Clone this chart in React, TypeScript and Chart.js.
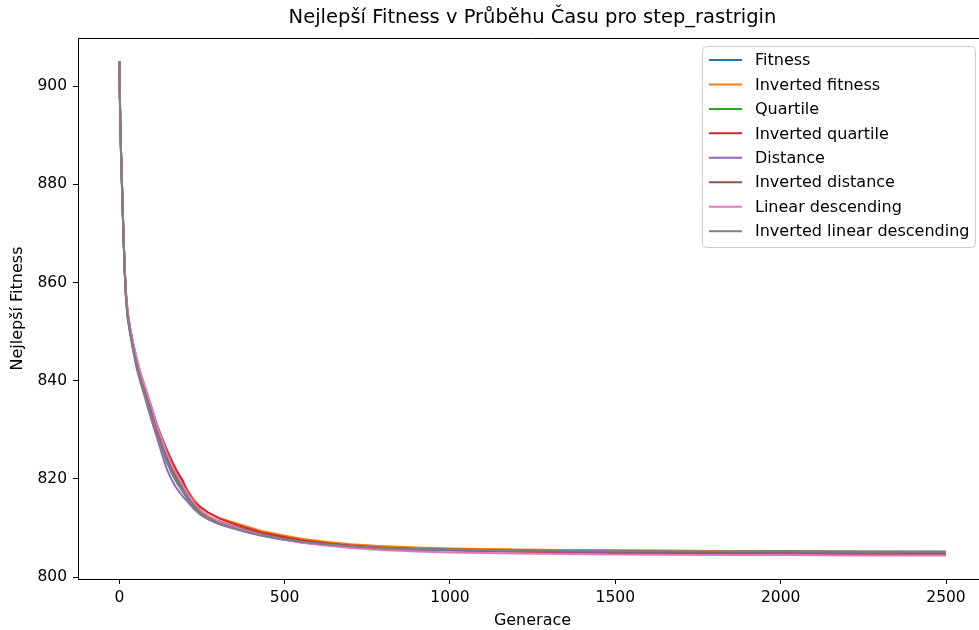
import React, { useEffect, useRef } from "react";
import { Chart, registerables } from "chart.js";

Chart.register(...registerables);

// Generations at which the best fitness was recorded
const GENERATIONS = [
  0, 1, 3, 5, 8, 12, 16, 20, 25, 33,
  42, 53, 65, 75, 84, 100, 114, 130, 144, 160,
  174, 190, 205, 225, 245, 270, 300, 335, 380, 430,
  487, 550, 638, 700, 789, 900, 1000, 1200, 1500, 1800,
  2000, 2250, 2499,
];

const FITNESS = [
  905.0, 900.2, 893.4, 887.1, 879.6, 870.8, 862.6, 857.2, 853.0, 849.7,
  846.4, 843.0, 840.2, 837.9, 835.8, 832.1, 829.3, 826.0, 823.4, 821.0,
  819.2, 817.6, 816.0, 814.3, 812.9, 811.9, 811.0, 810.2, 809.3, 808.5,
  807.8, 807.1, 806.5, 806.2, 805.9, 805.8, 805.7, 805.5, 805.4, 805.3,
  805.3, 805.2, 805.2,
];

const INVERTED_FITNESS = [
  904.8, 899.6, 892.8, 886.7, 880.3, 871.4, 863.3, 857.8, 853.9, 850.3,
  847.2, 843.9, 840.6, 838.8, 836.9, 833.6, 830.8, 827.9, 825.6, 823.4,
  821.5, 819.4, 817.8, 815.8, 814.2, 813.0, 812.1, 811.3, 810.4, 809.4,
  808.6, 807.8, 807.1, 806.7, 806.3, 806.0, 805.8, 805.6, 805.4, 805.3,
  805.2, 805.2, 805.1,
];

const QUARTILE = [
  905.1, 900.1, 892.9, 886.8, 879.9, 870.9, 862.9, 857.4, 853.4, 849.9,
  846.8, 843.2, 840.1, 838.1, 836.0, 832.5, 829.4, 826.4, 823.9, 821.4,
  819.7, 817.9, 816.3, 814.5, 813.1, 812.0, 811.1, 810.3, 809.4, 808.6,
  807.8, 807.1, 806.5, 806.1, 805.7, 805.5, 805.4, 805.2, 805.0, 804.9,
  804.8, 804.8, 804.7,
];

const INVERTED_QUARTILE = [
  905.0, 900.3, 893.2, 887.2, 880.2, 871.2, 863.4, 858.0, 854.0, 850.6,
  847.5, 844.2, 841.2, 839.0, 837.3, 834.0, 831.0, 828.2, 825.9, 823.5,
  821.6, 819.9, 817.6, 815.4, 814.3, 813.1, 812.0, 811.1, 810.1, 809.1,
  808.3, 807.5, 806.8, 806.4, 806.0, 805.7, 805.5, 805.2, 804.9, 804.7,
  804.6, 804.6, 804.5,
];

const DISTANCE = [
  905.0, 899.8, 892.6, 886.5, 879.4, 870.5, 862.4, 856.9, 852.8, 849.4,
  846.0, 842.3, 839.4, 837.2, 835.0, 831.4, 828.4, 824.8, 821.9, 819.6,
  818.0, 816.6, 815.4, 813.9, 812.7, 811.7, 810.8, 810.1, 809.2, 808.4,
  807.7, 807.1, 806.5, 806.1, 805.8, 805.6, 805.5, 805.3, 805.1, 805.0,
  804.9, 804.9, 804.8,
];

const INVERTED_DISTANCE = [
  905.0, 900.0, 893.1, 887.0, 880.1, 871.1, 863.1, 857.6, 853.6, 850.1,
  847.1, 843.6, 840.6, 838.6, 836.6, 833.1, 830.1, 827.1, 824.6, 822.1,
  820.4, 818.6, 817.0, 815.0, 813.5, 812.3, 811.4, 810.6, 809.7, 808.8,
  808.0, 807.3, 806.7, 806.3, 805.9, 805.7, 805.6, 805.4, 805.2, 805.1,
  805.0, 805.0, 804.9,
];

const LINEAR_DESCENDING = [
  905.0, 900.4, 893.5, 887.4, 880.4, 871.5, 863.6, 858.2, 854.2, 850.7,
  847.7, 844.4, 841.5, 839.4, 837.5, 834.1, 830.9, 827.8, 825.2, 822.6,
  820.8, 818.9, 817.2, 815.2, 813.6, 812.4, 811.4, 810.5, 809.5, 808.6,
  807.8, 807.0, 806.3, 805.9, 805.5, 805.2, 805.0, 804.8, 804.6, 804.5,
  804.5, 804.4, 804.4,
];

const INVERTED_LINEAR_DESCENDING = [
  905.1, 899.9, 892.8, 886.7, 879.8, 870.7, 862.7, 857.1, 853.2, 849.8,
  846.6, 843.1, 839.9, 837.8, 835.7, 832.3, 829.1, 826.2, 823.6, 821.2,
  819.4, 817.7, 816.2, 814.2, 812.8, 811.8, 810.9, 810.2, 809.3, 808.5,
  807.8, 807.2, 806.6, 806.3, 805.9, 805.7, 805.6, 805.4, 805.3, 805.2,
  805.2, 805.1, 805.1,
];

const SERIES_LABELS = [
  "Fitness",
  "Inverted fitness",
  "Quartile",
  "Inverted quartile",
  "Distance",
  "Inverted distance",
  "Linear descending",
  "Inverted linear descending",
];

const SERIES_VALUES = [
  FITNESS,
  INVERTED_FITNESS,
  QUARTILE,
  INVERTED_QUARTILE,
  DISTANCE,
  INVERTED_DISTANCE,
  LINEAR_DESCENDING,
  INVERTED_LINEAR_DESCENDING,
];

const SERIES_COLORS = [
  "#1f77b4",
  "#ff7f0e",
  "#2ca02c",
  "#d62728",
  "#9467bd",
  "#8c564b",
  "#e377c2",
  "#7f7f7f",
];

const X_TICKS = [0, 500, 1000, 1500, 2000, 2500];
const Y_TICKS = [800, 820, 840, 860, 880, 900];

const TITLE = "Nejlepší Fitness v Průběhu Času pro step_rastrigin";
const X_TITLE = "Generace";
const Y_TITLE = "Nejlepší Fitness";
const FONT = "'DejaVu Sans', sans-serif";

// Draws the top/right spines, the title and a framed legend inside the plot
const framePlugin = {
  id: "frame",
  afterDraw(chart: any) {
    const { ctx, chartArea: a } = chart;
    ctx.save();

    ctx.strokeStyle = "#000";
    ctx.lineWidth = 1;
    ctx.beginPath();
    ctx.moveTo(a.left, a.top + 0.5);
    ctx.lineTo(a.right, a.top + 0.5);
    ctx.moveTo(a.right - 0.5, a.top);
    ctx.lineTo(a.right - 0.5, a.bottom);
    ctx.stroke();

    ctx.fillStyle = "#000";
    ctx.font = `19.5px ${FONT}`;
    ctx.textAlign = "center";
    ctx.textBaseline = "middle";
    ctx.fillText(TITLE, (a.left + a.right) / 2, 18);

    // legend box
    const bx = 702.5;
    const by = 46.5;
    const bw = 273;
    const bh = 201;
    const r = 4;
    ctx.beginPath();
    ctx.moveTo(bx + r, by);
    ctx.lineTo(bx + bw - r, by);
    ctx.arcTo(bx + bw, by, bx + bw, by + r, r);
    ctx.lineTo(bx + bw, by + bh - r);
    ctx.arcTo(bx + bw, by + bh, bx + bw - r, by + bh, r);
    ctx.lineTo(bx + r, by + bh);
    ctx.arcTo(bx, by + bh, bx, by + bh - r, r);
    ctx.lineTo(bx, by + r);
    ctx.arcTo(bx, by, bx + r, by, r);
    ctx.closePath();
    ctx.fillStyle = "rgba(255,255,255,0.8)";
    ctx.fill();
    ctx.strokeStyle = "#cccccc";
    ctx.stroke();

    ctx.font = `16px ${FONT}`;
    ctx.textAlign = "left";
    chart.data.datasets.forEach((ds: any, i: number) => {
      const y = 60 + i * 24.45;
      ctx.strokeStyle = ds.borderColor;
      ctx.lineWidth = 2;
      ctx.beginPath();
      ctx.moveTo(709, y);
      ctx.lineTo(742, y);
      ctx.stroke();
      ctx.fillStyle = "#000";
      ctx.fillText(ds.label, 755, y + 1);
    });

    ctx.restore();
  },
};

export default function App() {
  const canvasRef = useRef<HTMLCanvasElement | null>(null);

  useEffect(() => {
    document.body.style.margin = "0";
    const canvas = canvasRef.current;
    if (!canvas) return;

    const datasets = SERIES_LABELS.map((label, i) => ({
      label,
      data: GENERATIONS.map((g, k) => ({ x: g, y: SERIES_VALUES[i][k] })),
      borderColor: SERIES_COLORS[i],
      backgroundColor: SERIES_COLORS[i],
      borderWidth: 2,
      pointRadius: 0,
      tension: 0,
      fill: false,
      order: SERIES_LABELS.length - 1 - i,
    }));

    const tickFont = { family: FONT, size: 15.5 };

    const chart = new Chart(canvas, {
      type: "line",
      data: { datasets },
      options: {
        animation: false,
        responsive: false,
        devicePixelRatio: 1,
        layout: { padding: { top: 38, right: 13, left: 0, bottom: 0 } },
        plugins: {
          legend: { display: false },
          title: { display: false },
          tooltip: { enabled: false },
        },
        scales: {
          x: {
            type: "linear",
            min: -124.95,
            max: 2623.95,
            afterBuildTicks: (scale: any) => {
              scale.ticks = X_TICKS.map((v) => ({ value: v }));
            },
            afterFit: (scale: any) => {
              scale.height = 51;
            },
            ticks: {
              color: "#000",
              font: tickFont,
              padding: 5,
              maxRotation: 0,
              autoSkip: false,
              callback: (v: any) => String(v),
            },
            grid: {
              drawOnChartArea: false,
              drawTicks: true,
              tickLength: 5,
              tickColor: "#000",
              tickWidth: 1,
            },
            border: { display: true, color: "#000", width: 1 },
            title: {
              display: true,
              text: X_TITLE,
              color: "#000",
              font: { family: FONT, size: 16, lineHeight: 1.2 },
              padding: { top: 0, bottom: 0 },
            },
          },
          y: {
            type: "linear",
            min: 799.6,
            max: 909.8,
            afterBuildTicks: (scale: any) => {
              scale.ticks = Y_TICKS.map((v) => ({ value: v }));
            },
            afterFit: (scale: any) => {
              scale.width = 78;
            },
            ticks: {
              color: "#000",
              font: tickFont,
              padding: 6,
              autoSkip: false,
              callback: (v: any) => String(v),
            },
            grid: {
              drawOnChartArea: false,
              drawTicks: true,
              tickLength: 5,
              tickColor: "#000",
              tickWidth: 1,
            },
            border: { display: true, color: "#000", width: 1 },
            title: {
              display: true,
              text: Y_TITLE,
              color: "#000",
              font: { family: FONT, size: 16, lineHeight: 1.2 },
              padding: { top: 8, bottom: 0 },
            },
          },
        },
      },
      plugins: [framePlugin],
    });

    return () => chart.destroy();
  }, []);

  return (
    <div style={{ width: 979, height: 630, overflow: "hidden", background: "#fff" }}>
      <canvas ref={canvasRef} width={1000} height={630} style={{ display: "block" }} />
    </div>
  );
}
